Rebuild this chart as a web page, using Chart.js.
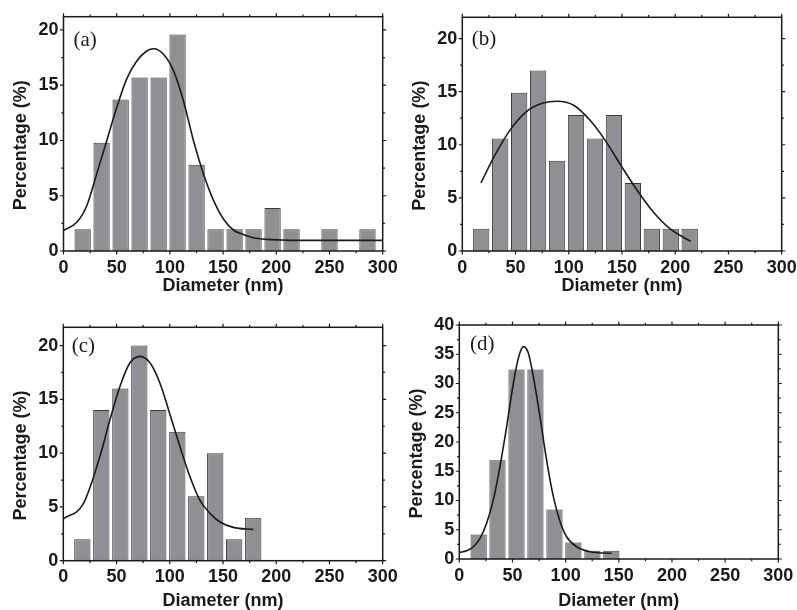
<!DOCTYPE html>
<html>
<head>
<meta charset="utf-8">
<script src="https://cdn.jsdelivr.net/npm/chart.js@4.4.1/dist/chart.umd.min.js"></script>
<style>
  html, body { margin: 0; padding: 0; background: #ffffff; }
  #wrap { position: relative; width: 797px; height: 610px; overflow: hidden; }
  canvas { position: absolute; }
</style>
</head>
<body>
<div id="wrap">
  <canvas id="ca" width="398" height="300" style="left:0px;top:0px;width:398px;height:300px"></canvas>
  <canvas id="cb" width="399" height="300" style="left:398px;top:0px;width:399px;height:300px"></canvas>
  <canvas id="cc" width="398" height="310" style="left:0px;top:300px;width:398px;height:310px"></canvas>
  <canvas id="cd" width="399" height="310" style="left:398px;top:300px;width:399px;height:310px"></canvas>
</div>
<script>
// ---------------- data ----------------
const xTitle = 'Diameter (nm)';
const yTitle = 'Percentage (%)';

// (a)
const aCenters = [18, 35.8, 53.7, 71.5, 89.4, 107.2, 125.1, 142.9, 160.8, 178.6, 196.5, 214.3, 250, 285.7];
const aValues  = [1.96, 9.8, 13.7, 15.7, 15.7, 19.6, 7.8, 1.96, 1.96, 1.96, 3.9, 1.96, 1.96, 1.96];
const aFitX = [0, 12.5, 21.9, 31.3, 40.7, 50.1, 59.5, 68.9, 78.3, 84.6, 94, 103.4, 112.7, 122.1, 131.5, 140.9, 150.3, 159.7, 169.1, 178.5, 191, 205, 222, 260, 300];
const aFitY = [1.87, 2.6, 4.1, 7.0, 10.0, 13.0, 15.6, 17.2, 18.1, 18.3, 17.8, 16.3, 13.6, 10.0, 7.0, 4.6, 2.9, 1.9, 1.5, 1.2, 1.05, 1.0, 0.96, 0.96, 0.96];

// (b)
const bCenters = [17.8, 35.6, 53.4, 71.2, 89, 106.8, 124.6, 142.4, 160.2, 178, 195.8, 213.6];
const bValues  = [2.1, 10.6, 14.9, 17.0, 8.5, 12.8, 10.6, 12.8, 6.4, 2.1, 2.1, 2.1];
const bFitX = [17.5, 30, 45, 60, 75, 89, 105, 120, 135, 150, 165, 180, 195, 214.5];
const bFitY = [6.4, 8.9, 11.4, 13.1, 13.9, 14.1, 13.7, 12.3, 10.3, 7.9, 5.6, 3.6, 2.1, 0.9];

// (c)
const cCenters = [17.9, 35.7, 53.6, 71.4, 89.2, 107.1, 124.9, 142.7, 160.5, 178.4];
const cValues  = [2, 14, 16, 20, 14, 12, 6, 10, 2, 4];
const cFitX = [0, 18.8, 34.4, 43.8, 53.2, 62.6, 72, 81.4, 90.8, 100.2, 109.6, 119, 128.4, 137.8, 147.2, 159.7, 178.5];
const cFitY = [3.9, 5.3, 9.7, 13.1, 16.2, 18.4, 19.0, 18.4, 16.5, 13.6, 10.6, 7.8, 5.6, 4.4, 3.6, 3.1, 2.9];

// (d)
const dCenters = [18.2, 35.9, 53.8, 71.6, 89.5, 107.3, 125.2, 143];
const dValues  = [4.2, 16.9, 32.4, 32.4, 8.45, 2.8, 1.4, 1.4];
const dFitX = [0, 6.9, 13.2, 19.4, 25.7, 32, 38.2, 44.5, 50.8, 55.5, 60.2, 64.9, 69.6, 75.9, 82.1, 88.4, 94.7, 100.9, 110.3, 122.9, 143.3];
const dFitY = [1.14, 1.4, 2.1, 3.5, 6.1, 10.1, 15.8, 22.6, 30.0, 34.3, 36.3, 35.2, 31.2, 24.3, 16.9, 10.7, 6.4, 3.8, 2.1, 1.25, 0.97];

const xTicks = [0, 50, 100, 150, 200, 250, 300];

// ---------------- styling ----------------
const SANS = '"Liberation Sans", Arial, Helvetica, sans-serif';
const SERIF = '"Liberation Serif", "Times New Roman", serif';
const INK = '#1a1a1a';
const BAR_FILL = '#8e9094';
const BAR_EDGE = '#3a3a3a';

function framePlugin(p) {
  return {
    id: 'frame' + p.id,
    afterDraw(chart) {
      const ctx = chart.ctx;
      const a = chart.chartArea;
      const xs = chart.scales.x, ys = chart.scales.y;
      ctx.save();
      ctx.strokeStyle = INK;
      ctx.lineWidth = 1.5;
      ctx.strokeRect(a.left, a.top, a.right - a.left, a.bottom - a.top);
      ctx.lineWidth = 1.2;
      ctx.beginPath();
      for (let v = 0; v <= 300; v += 25) {
        const px = xs.getPixelForValue(v);
        const len = (v % 50 === 0) ? 3.5 : 2.2;
        ctx.moveTo(px, a.bottom); ctx.lineTo(px, a.bottom + len);
        ctx.moveTo(px, a.top); ctx.lineTo(px, a.top - len);
      }
      const half = p.yStep / 2;
      for (let v = 0; v <= p.yMax + 1e-6; v += half) {
        const py = ys.getPixelForValue(v);
        const major = Math.abs(v / p.yStep - Math.round(v / p.yStep)) < 1e-6;
        const len = major ? 3.5 : 2.2;
        ctx.moveTo(a.left, py); ctx.lineTo(a.left - len, py);
        ctx.moveTo(a.right, py); ctx.lineTo(a.right + len, py);
      }
      ctx.stroke();
      // y axis title
      ctx.fillStyle = INK;
      ctx.font = 'bold 18px ' + SANS;
      ctx.textAlign = 'center';
      ctx.textBaseline = 'middle';
      ctx.save();
      ctx.translate(a.left - 42.3, (a.top + a.bottom) / 2 + 11.5);
      ctx.rotate(-Math.PI / 2);
      ctx.fillText(yTitle, 0, 0);
      ctx.restore();
      // panel label
      ctx.font = '21px ' + SERIF;
      ctx.textAlign = 'left';
      ctx.textBaseline = 'alphabetic';
      ctx.fillText(p.label, a.left + p.lx, a.top + p.ly);
      ctx.restore();
    }
  };
}

function makeChart(p) {
  const canvas = document.getElementById(p.id);
  const H = canvas.height, W = canvas.width;
  const bars = p.centers.map((c, i) => ({ x: c, y: p.values[i] }));
  const fit = p.fitX.map((x, i) => ({ x: x, y: p.fitY[i] }));
  return new Chart(canvas, {
    type: 'bar',
    data: {
      datasets: [
        {
          type: 'line', data: fit, order: 0,
          borderColor: INK, borderWidth: 1.6, pointRadius: 0,
          cubicInterpolationMode: 'monotone', fill: false
        },
        {
          type: 'bar', data: bars, order: 1,
          backgroundColor: BAR_FILL, borderColor: BAR_EDGE, borderWidth: 1,
          categoryPercentage: 1.0, barPercentage: 0.86
        }
      ]
    },
    options: {
      responsive: false,
      animation: false,
      devicePixelRatio: 1,
      plugins: { legend: { display: false }, tooltip: { enabled: false } },
      layout: { padding: { left: 0, top: p.T, right: W - p.R, bottom: 0 } },
      scales: {
        x: {
          type: 'linear', min: 0, max: 300, offset: false,
          grid: { display: false, drawTicks: false },
          border: { display: false },
          afterBuildTicks: (s) => { s.ticks = xTicks.map(v => ({ value: v })); },
          ticks: {
            padding: 6, color: INK, maxRotation: 0, autoSkip: false,
            font: { family: SANS, size: 18, weight: 'bold' }
          },
          title: {
            display: true, text: xTitle, color: INK,
            font: { family: SANS, size: 18, weight: 'bold', lineHeight: 1 },
            padding: { top: 0, bottom: p.titlePad }
          },
          afterFit: (s) => { s.height = H - p.B; s.paddingLeft = 0; s.paddingRight = 0; }
        },
        y: {
          type: 'linear', min: 0, max: p.yMax,
          grid: { display: false, drawTicks: false },
          border: { display: false },
          ticks: {
            stepSize: p.yStep, includeBounds: false, padding: 5, color: INK,
            font: { family: SANS, size: 18, weight: 'bold' }
          },
          afterFit: (s) => { s.width = p.L; s.paddingTop = 0; s.paddingBottom = 0; }
        }
      }
    },
    plugins: [framePlugin(p)]
  });
}

makeChart({ id: 'ca', label: '(a)', centers: aCenters, values: aValues, fitX: aFitX, fitY: aFitY,
  L: 63.5, R: 382.7, T: 16.7, B: 251, yMax: 21.2, yStep: 5, lx: 10, ly: 29, titlePad: 5 });
makeChart({ id: 'cb', label: '(b)', centers: bCenters, values: bValues, fitX: bFitX, fitY: bFitY,
  L: 64.3, R: 383.7, T: 17.3, B: 251, yMax: 22, yStep: 5, lx: 9.4, ly: 28, titlePad: 5 });
makeChart({ id: 'cc', label: '(c)', centers: cCenters, values: cValues, fitX: cFitX, fitY: cFitY,
  L: 63.3, R: 382.7, T: 27.3, B: 260.7, yMax: 21.7, yStep: 5, lx: 8.4, ly: 25, titlePad: 0 });
makeChart({ id: 'cd', label: '(d)', centers: dCenters, values: dValues, fitX: dFitX, fitY: dFitY,
  L: 61.3, R: 380.3, T: 25, B: 259, yMax: 40, yStep: 5, lx: 10.7, ly: 25, titlePad: 0 });
</script>
</body>
</html>
